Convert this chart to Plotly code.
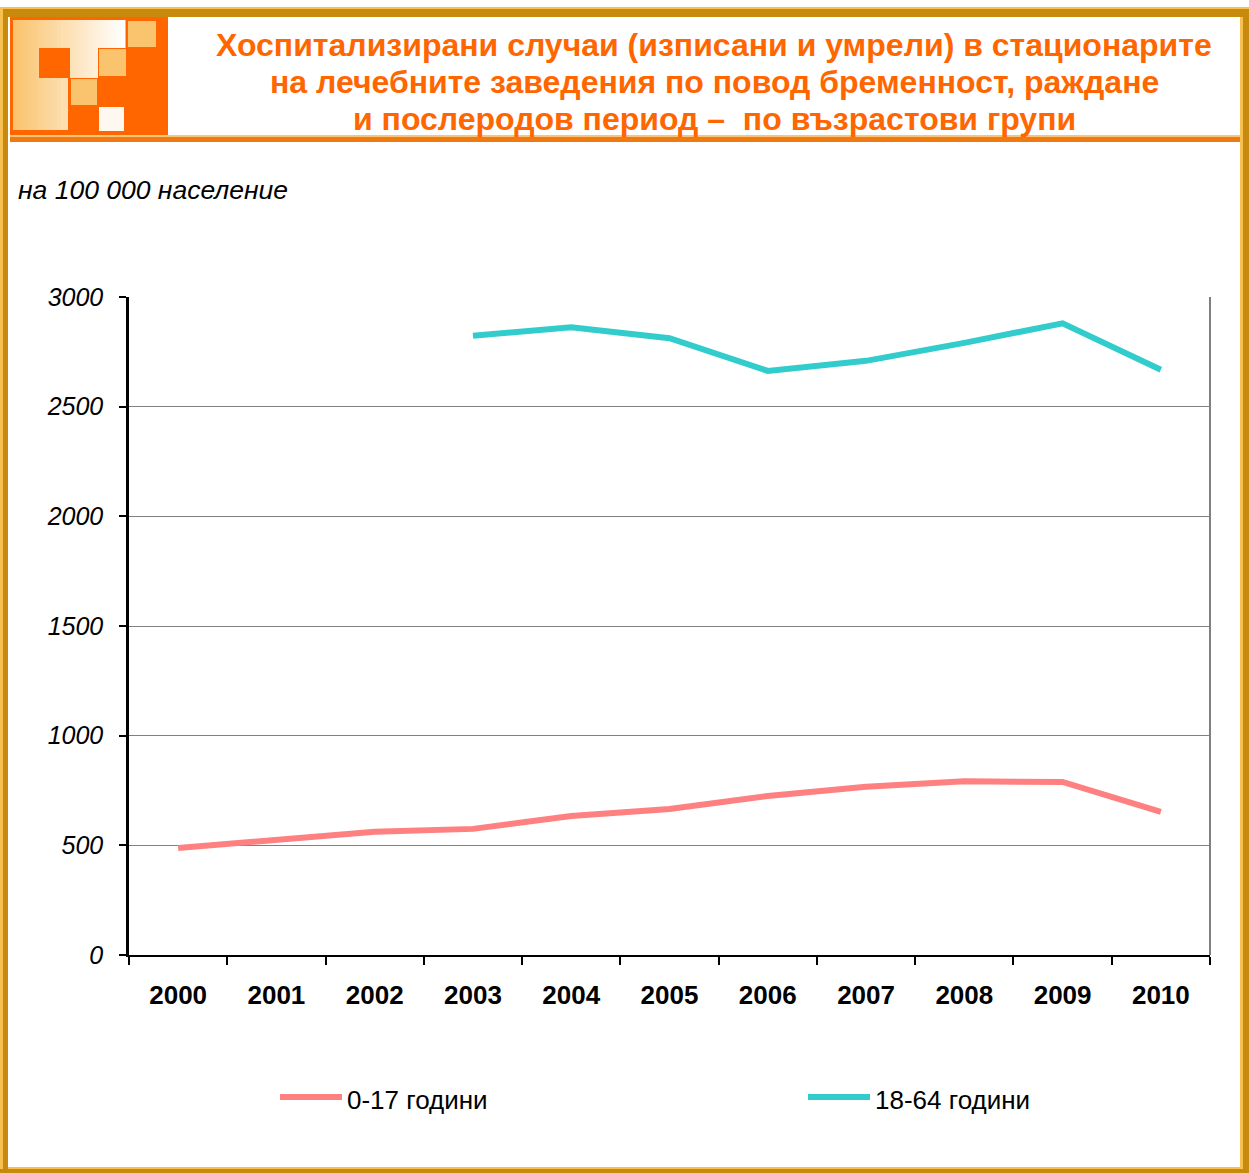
import plotly.graph_objects as go

# ---- data ----
years = ["2000", "2001", "2002", "2003", "2004", "2005", "2006", "2007", "2008", "2009", "2010"]
age_0_17 = [488, 524, 562, 575, 634, 666, 725, 767, 792, 789, 653]
age_18_64 = [None, None, None, 2823, 2862, 2812, 2663, 2709, 2791, 2880, 2668]
series_names = ["0-17 години", "18-64 години"]
series_colors = ["#FF8080", "#33CCCC"]
y_ticks = [0, 500, 1000, 1500, 2000, 2500, 3000]

title_lines = ["Хоспитализирани случаи (изписани и умрели) в стационарите",
               "на лечебните заведения по повод бременност, раждане",
               "и послеродов период –  по възрастови групи"]
unit_text = "на 100 000 население"

W, H = 1249, 1173
PL, PR, PT, PB = 129, 1210, 297, 955  # plot area in pixels


def px(x):
    return (x - PL) / (PR - PL)


def py(y):
    return (PB - y) / (PB - PT)


def rect(x0, y0, x1, y1, color):
    return dict(type="rect", xref="paper", yref="paper",
                x0=px(x0), x1=px(x1), y0=py(y1), y1=py(y0),
                fillcolor=color, line=dict(width=0), layer="above")


fig = go.Figure()
for name, vals, col in zip(series_names, [age_0_17, age_18_64], series_colors):
    fig.add_trace(go.Scatter(x=years, y=vals, mode="lines", name=name,
                             line=dict(color=col, width=6), showlegend=False,
                             connectgaps=False))

shapes = []
# frame
DARK = "#C88A0C"
LIGHT = "#F8C050"
shapes.append(rect(0, 8, 8, 1173, DARK))
shapes.append(rect(0, 8, 3, 1173, LIGHT))
shapes.append(rect(0, 7, 1249, 9, LIGHT))
shapes.append(rect(3, 9, 1249, 17, DARK))
shapes.append(rect(1243, 9, 1249, 1173, DARK))
shapes.append(rect(1240, 17, 1243, 1167, LIGHT))
shapes.append(rect(8, 1167, 1243, 1169, LIGHT))
shapes.append(rect(0, 1169, 1249, 1173, DARK))
# header underline
shapes.append(rect(10, 135, 1240, 137, "#F9C37A"))
shapes.append(rect(10, 137, 1240, 142, "#F07A10"))
# logo
ORANGE = "#FF6600"
LOR = "#FAC46F"
shapes.append(rect(10, 17, 168, 135, ORANGE))
n = 28
gx0, gx1 = 13, 125
for i in range(n):
    t = i / (n - 1)
    r = int(250 + (255 - 250) * t)
    g = int(196 + (255 - 196) * t)
    b = int(111 + (255 - 111) * t)
    xa = gx0 + (gx1 - gx0) * i / n
    xb = gx0 + (gx1 - gx0) * (i + 1) / n + 0.5
    shapes.append(rect(xa, 20, xb, 130, f"rgb({r},{g},{b})"))
shapes.append(rect(39, 48, 70, 78, ORANGE))
shapes.append(rect(98, 48, 168, 135, ORANGE))
shapes.append(rect(68, 78, 98, 131, ORANGE))
shapes.append(rect(99, 49, 126, 76, LOR))
shapes.append(rect(128, 21, 156, 47, LOR))
shapes.append(rect(71, 79, 97, 105, LOR))
shapes.append(rect(99, 107, 124, 131, "#FFF8F0"))
# plot border (right gray)
shapes.append(dict(type="line", xref="paper", yref="paper", x0=1, x1=1, y0=0, y1=1,
                   line=dict(color="#808080", width=2)))
# manual legend
legend_pos = [(280, 342, 345), (808, 870, 873)]
annotations = []
for (lx0, lx1, tx), name, col in zip(legend_pos, series_names, series_colors):
    shapes.append(dict(type="line", xref="paper", yref="paper",
                       x0=px(lx0), x1=px(lx1), y0=py(1097), y1=py(1097),
                       line=dict(color=col, width=6)))
    annotations.append(dict(xref="paper", yref="paper", x=px(tx), y=py(1100),
                            text=name, showarrow=False, xanchor="left", yanchor="middle",
                            font=dict(family="Liberation Sans, Arial", size=26, color="black")))

for line, yy in zip(title_lines, [45, 82, 119]):
    annotations.append(dict(xref="paper", yref="paper", x=px(714), y=py(yy),
                            text=line, showarrow=False, xanchor="center", yanchor="middle",
                            font=dict(family="Liberation Sans, Arial", size=32, color=ORANGE,
                                      weight="bold")))
annotations.append(dict(xref="paper", yref="paper", x=px(16), y=py(190),
                        text=unit_text, showarrow=False, xanchor="left", yanchor="middle",
                        font=dict(family="Liberation Sans, Arial", size=26.5, color="black",
                                  style="italic")))

fig.update_layout(
    width=W, height=H,
    margin=dict(l=PL, r=W - PR, t=PT, b=H - PB, pad=0),
    paper_bgcolor="white", plot_bgcolor="white",
    shapes=shapes, annotations=annotations,
    showlegend=False,
    xaxis=dict(type="category", categoryorder="array", categoryarray=years,
               showgrid=False, showline=True, linecolor="black", linewidth=2,
               ticks="outside", tickson="boundaries", ticklen=8, tickwidth=2,
               tickcolor="black", ticklabelstandoff=16,
               tickfont=dict(family="Liberation Sans, Arial", size=26, color="black",
                             weight="bold"),
               range=[-0.5, len(years) - 0.5], fixedrange=True),
    yaxis=dict(range=[0, 3000], tickvals=y_ticks, showgrid=True, gridcolor="#808080",
               gridwidth=1.3, showline=True, linecolor="black", linewidth=2.5,
               ticks="outside", ticklen=7, tickwidth=2, tickcolor="black",
               ticklabelstandoff=11, zeroline=False,
               tickfont=dict(family="Liberation Sans, Arial", size=25, color="black",
                             style="italic")),
)

fig.write_html("out.html", config={"displayModeBar": False},
               post_script="document.body.style.margin='0';")
